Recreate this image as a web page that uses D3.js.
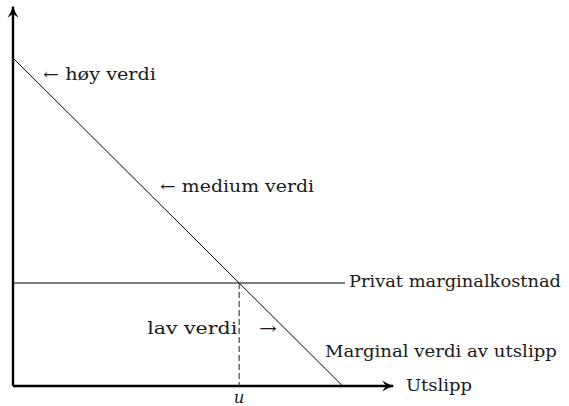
<!DOCTYPE html>
<html>
<head>
<meta charset="utf-8">
<script src="https://cdn.jsdelivr.net/npm/d3@7"></script>
<style>
  body { margin: 0; background: #fff; }
  text { font-family: "DejaVu Serif", serif; font-size: 16.5px; fill: #1a1a1a; }
</style>
</head>
<body>
<svg width="569" height="406"></svg>
<script>
// data (abstract units: the marginal value line runs from 100 down to 0)
const marginalValue = [[0, 100], [100, 0]];
const privateCost = [[0, 31.4], [100.7, 31.4]];
const uValue = 68.6;
const axisMax = { x: 115.9, y: 116.2 };
const labels = [
    { text: '\u2190 h\u00f8y verdi', x: 9.1, y: 93.3, anchor: 'start', w: 113 },
    { text: '\u2190 medium verdi', x: 44.6, y: 59.1, anchor: 'start', w: 154 },
    { text: 'lav verdi', x: 68.0, y: 15.9, anchor: 'end', w: 90 },
    { text: '\u2192', x: 74.6, y: 15.9, anchor: 'start', w: 18 },
    { text: 'Marginal verdi av utslipp', x: 94.6, y: 8.8, anchor: 'start', w: 232 },
    { text: 'Privat marginalkostnad', x: 101.9, y: 30.2, anchor: 'start', w: 212 },
    { text: 'Utslipp', x: 119.2, y: -1.5, anchor: 'start', w: 66 },
];

const svg = d3.select('svg');

const x = d3.scaleLinear().domain([0, 100]).range([13, 342.7]);
const y = d3.scaleLinear().domain([0, 100]).range([386, 58]);

svg.append('defs').append('marker')
    .attr('id', 'arrow')
    .attr('viewBox', '-12 -7 14 14')
    .attr('markerWidth', 14)
    .attr('markerHeight', 14)
    .attr('markerUnits', 'userSpaceOnUse')
    .attr('refX', 0)
    .attr('refY', 0)
    .attr('orient', 'auto')
    .append('path')
    .attr('d', 'M-11,-5.5 Q-5,-1.5 1,0 Q-5,1.5 -11,5.5 L-7,0 Z')
    .attr('fill', '#000');

const line = d3.line().x(d => x(d[0])).y(d => y(d[1]));

// axes
svg.append('line')
    .attr('x1', x(0)).attr('y1', y(0))
    .attr('x2', x(axisMax.x) - 2).attr('y2', y(0))
    .attr('stroke', '#000').attr('stroke-width', 2.4)
    .attr('marker-end', 'url(#arrow)');

svg.append('line')
    .attr('x1', x(0)).attr('y1', y(0))
    .attr('x2', x(0)).attr('y2', y(axisMax.y) + 2)
    .attr('stroke', '#000').attr('stroke-width', 2.4)
    .attr('marker-end', 'url(#arrow)');

// curves
svg.append('path')
    .attr('d', line(marginalValue))
    .attr('fill', 'none').attr('stroke', '#000').attr('stroke-width', 1);

svg.append('path')
    .attr('d', line(privateCost))
    .attr('fill', 'none').attr('stroke', '#000').attr('stroke-width', 1);

svg.append('line')
    .attr('x1', x(uValue)).attr('y1', y(privateCost[0][1]))
    .attr('x2', x(uValue)).attr('y2', y(0))
    .attr('stroke', '#444').attr('stroke-width', 1.2)
    .attr('stroke-dasharray', '6,3');

svg.selectAll('text.label')
    .data(labels)
    .enter()
    .append('text')
    .attr('class', 'label')
    .attr('x', d => x(d.x))
    .attr('y', d => y(d.y))
    .attr('text-anchor', d => d.anchor)
    .attr('textLength', d => d.w)
    .attr('lengthAdjust', 'spacingAndGlyphs')
    .text(d => d.text);

svg.append('text')
    .attr('x', x(uValue))
    .attr('y', 403)
    .attr('text-anchor', 'middle')
    .style('font-style', 'italic')
    .text('u');
</script>
</body>
</html>
